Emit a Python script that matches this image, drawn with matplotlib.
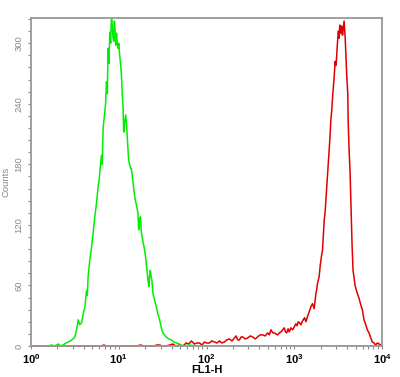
import numpy as np
import matplotlib
matplotlib.use('Agg')
import matplotlib.pyplot as plt
from matplotlib.ticker import MultipleLocator, LogLocator, FixedLocator

plt.rcParams['font.family'] = ['Liberation Sans', 'DejaVu Sans']
plt.rcParams['mathtext.fontset'] = 'custom'
plt.rcParams['mathtext.bf'] = 'Liberation Sans:bold'
plt.rcParams['mathtext.rm'] = 'Liberation Sans:bold'
plt.rcParams['mathtext.default'] = 'bf'

# canal verde (controle) - posicao em decadas e contagens
verde_dec = [0.0, 0.15, 0.20, 0.235, 0.27, 0.31, 0.34, 0.364, 0.40, 0.424, 0.45, 0.463, 0.48,
             0.50, 0.519, 0.538, 0.555, 0.576, 0.595, 0.614, 0.633, 0.642, 0.651, 0.670,
             0.690, 0.708, 0.727, 0.747, 0.765, 0.776, 0.790, 0.803, 0.812, 0.822, 0.841,
             0.850, 0.860, 0.870, 0.878, 0.888, 0.898, 0.908, 0.917, 0.928, 0.935, 0.943,
             0.950, 0.955, 0.966, 0.975, 0.981, 0.992, 1.000, 1.011, 1.020, 1.031, 1.040,
             1.049, 1.057, 1.068, 1.080, 1.094, 1.105, 1.114, 1.125, 1.135, 1.144, 1.155,
             1.163, 1.172, 1.182, 1.200, 1.219, 1.227, 1.237, 1.247, 1.258, 1.275, 1.295,
             1.310, 1.322, 1.334, 1.344, 1.352, 1.360, 1.370, 1.378, 1.390, 1.410, 1.428,
             1.445, 1.466, 1.485, 1.503, 1.522, 1.542, 1.570, 1.599, 1.630, 1.656, 1.690,
             1.731, 1.80, 1.90, 2.2, 2.5, 3.0, 3.5, 4.0]
verde_cont = [0, 0, 0, 1, 0, 2, 0, 1, 3, 4, 5, 6, 7,
              9, 16, 26, 21, 23, 32, 39, 55, 50, 69, 85,
              98, 112, 128, 142, 158, 164, 178, 189, 180, 216, 232,
              240, 262, 250, 295, 280, 311, 300, 328, 315, 305, 302,
              322, 318, 298, 310, 302, 295, 300, 288, 280, 268, 250,
              236, 212, 222, 229, 212, 195, 183, 180, 176, 176, 168,
              162, 155, 148, 140, 132, 115, 125, 128, 112, 104, 95,
              85, 75, 65, 59, 70, 75, 68, 65, 52, 45, 39,
              32, 26, 18, 13, 11, 9, 7, 6, 4, 3, 2,
              0, 1, 0, 0, 0, 0, 0, 0]

# canal vermelho (marcado)
verm_dec = [0.0, 0.80, 0.83, 0.86, 1.20, 1.25, 1.28, 1.352, 1.40, 1.432, 1.466, 1.50, 1.542,
            1.58, 1.617, 1.65, 1.693, 1.73, 1.769, 1.80, 1.826, 1.864, 1.89, 1.920, 1.95,
            1.977, 2.00, 2.034, 2.06, 2.091, 2.12, 2.148, 2.175, 2.205, 2.23, 2.261, 2.29,
            2.318, 2.338, 2.355, 2.375, 2.395, 2.413, 2.44, 2.469, 2.50, 2.526, 2.555,
            2.583, 2.61, 2.640, 2.67, 2.697, 2.715, 2.735, 2.755, 2.773, 2.790, 2.810,
            2.830, 2.849, 2.868, 2.886, 2.900, 2.913, 2.930, 2.943, 2.962, 2.981, 3.000,
            3.019, 3.032, 3.045, 3.060, 3.076, 3.090, 3.102, 3.118, 3.133, 3.150, 3.163,
            3.178, 3.190, 3.208, 3.227, 3.237, 3.247, 3.256, 3.265, 3.284, 3.295, 3.310,
            3.322, 3.332, 3.341, 3.352, 3.364, 3.375, 3.387, 3.398, 3.408, 3.417, 3.426,
            3.435, 3.445, 3.455, 3.466, 3.474, 3.481, 3.492, 3.503, 3.511, 3.519, 3.525,
            3.531, 3.542, 3.550, 3.557, 3.568, 3.580, 3.588, 3.599, 3.610, 3.614, 3.625,
            3.636, 3.648, 3.659, 3.670, 3.693, 3.716, 3.739, 3.761, 3.776, 3.795, 3.815,
            3.833, 3.852, 3.872, 3.890, 3.909, 3.928, 3.947, 3.966, 3.985, 4.0]
verm_cont = [0, 0, 1, 0, 0, 1, 0, 0, 0, 1, 1, 0, 0,
             1, 2, 0, 1, 0, 3, 2, 5, 2, 3, 3, 1,
             4, 3, 3, 5, 4, 3, 5, 3, 4, 6, 7, 5,
             8, 10, 6, 6, 9, 9, 7, 8, 10, 9, 7,
             9, 11, 11, 10, 13, 11, 16, 13, 13, 12, 11,
             13, 14, 16, 18, 14, 13, 17, 14, 18, 16, 19,
             22, 20, 24, 23, 21, 24, 26, 28, 24, 29, 32,
             36, 39, 42, 37, 45, 52, 56, 62, 69, 79, 89,
             95, 110, 124, 133, 149, 164, 178, 195, 208, 224, 232,
             244, 255, 267, 282, 278, 284, 300, 312, 305, 318, 312,
             310, 317, 308, 313, 322, 306, 290, 267, 250, 224, 194,
             173, 135, 100, 75, 60, 53, 47, 40, 36, 26, 21,
             16, 13, 8, 4, 3, 1, 3, 2, 1, 0]

x_ticks = [1, 10, 100, 1000, 10000]
x_labels = [r'$10^{0}$', r'$10^{1}$', r'$10^{2}$', r'$10^{3}$', r'$10^{4}$']
y_ticks = [0, 60, 120, 180, 240, 300]

fig = plt.figure(figsize=(4, 3.77), dpi=100)
ax = fig.add_axes([0.0775, 0.0822, 0.8775, 0.87])

ax.plot(10 ** np.array(verm_dec), verm_cont, color='#e00000', lw=1.1, clip_on=False)
ax.plot(10 ** np.array(verde_dec), verde_cont, color='#00ee00', lw=1.1)

ax.set_xscale('log')
ax.set_xlim(1, 1e4)
ax.set_ylim(0, 325)

for s in ax.spines.values():
    s.set_color('#999999')
    s.set_linewidth(1.3)

ax.yaxis.set_major_locator(FixedLocator(y_ticks))
ax.yaxis.set_minor_locator(MultipleLocator(12))
ax.xaxis.set_major_locator(FixedLocator(x_ticks))
ax.xaxis.set_minor_locator(LogLocator(base=10, subs=np.arange(2, 10), numticks=10))
ax.set_xticklabels(x_labels)

ax.tick_params(axis='y', which='both', direction='out', length=2.5, width=0.8,
               color='#888888', labelsize=6.8, labelcolor='#888888', pad=3)
for t in ax.get_yticklabels():
    t.set_rotation(90)
    t.set_va('center')
ax.tick_params(axis='x', which='both', direction='out', length=2.5, width=0.8,
               color='#888888', labelsize=8, labelcolor='black', pad=2)

ax.set_ylabel('Counts', fontsize=6.8, color='#888888', labelpad=3)
ax.set_xlabel('FL1-H', fontsize=8, fontweight='bold', labelpad=-1)

plt.savefig('out.png', dpi=100)
